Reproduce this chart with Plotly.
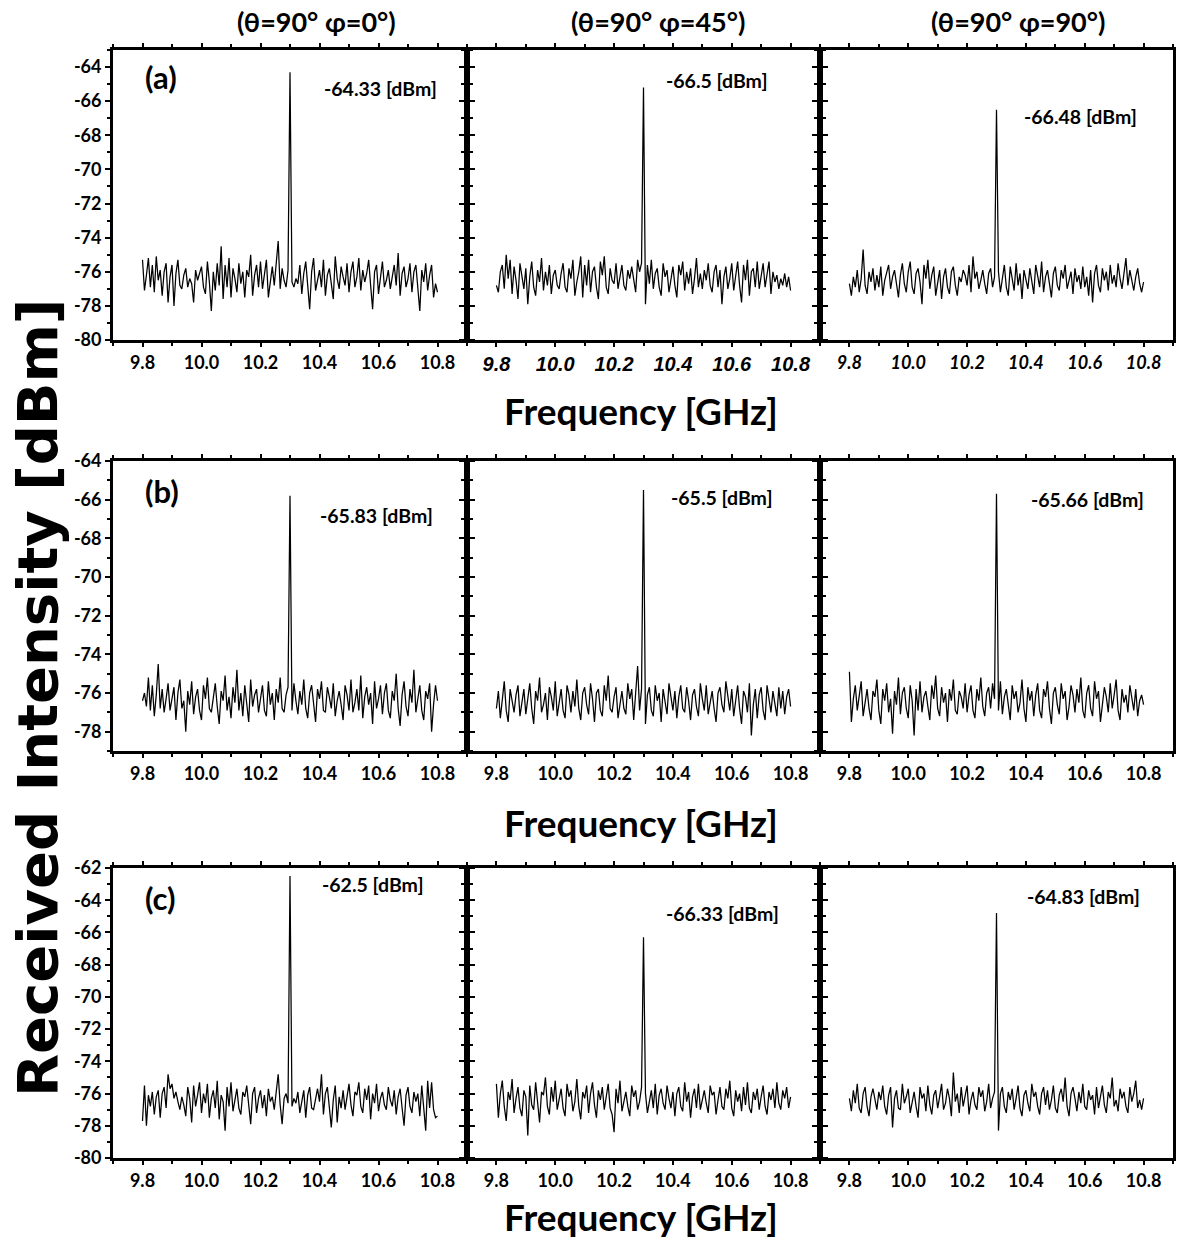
import numpy as np
import plotly.graph_objects as go

W, H = 1180, 1239
FONT = "Lato"

# ---------------- data ----------------
FREQ_START, FREQ_STOP, N_POINTS = 9.8, 10.8, 151
freq = np.linspace(FREQ_START, FREQ_STOP, N_POINTS)

col_titles = ["(θ=90° φ=0°)", "(θ=90° φ=45°)", "(θ=90° φ=90°)"]
row_labels = ["(a)", "(b)", "(c)"]
peak_labels = [
    ["-64.33 [dBm]", "-66.5 [dBm]", "-66.48 [dBm]"],
    ["-65.83 [dBm]", "-65.5 [dBm]", "-65.66 [dBm]"],
    ["-62.5 [dBm]", "-66.33 [dBm]", "-64.83 [dBm]"],
]
x_tickvals = [9.8, 10.0, 10.2, 10.4, 10.6, 10.8]
x_ticktext = ["9.8", "10.0", "10.2", "10.4", "10.6", "10.8"]
x_minor = [9.7, 9.9, 10.1, 10.3, 10.5, 10.7, 10.9]
y_ranges = [[-80, -63], [-79, -64], [-80, -62]]
y_tickvals = [
    [-80, -78, -76, -74, -72, -70, -68, -66, -64],
    [-78, -76, -74, -72, -70, -68, -66, -64],
    [-80, -78, -76, -74, -72, -70, -68, -66, -64, -62],
]

a1 = [-75.3,-77.1,-76.2,-75.2,-76.9,-75.6,-77.2,-75.1,-76.5,-75.9,-77.4,-76.0,-75.5,-77.8,-76.3,
      -75.6,-78.0,-76.1,-75.3,-76.8,-77.0,-76.2,-75.8,-76.9,-76.4,-76.7,-77.8,-75.9,-76.5,-76.1,
      -75.7,-76.9,-77.3,-75.4,-76.6,-78.3,-76.0,-77.1,-75.5,-76.8,-74.5,-77.6,-75.6,-76.9,-75.2,
      -77.5,-75.8,-76.4,-77.2,-75.5,-76.7,-76.0,-77.5,-75.9,-76.3,-75.0,-77.4,-76.2,-75.6,-76.9,
      -75.4,-77.0,-76.1,-75.3,-77.5,-76.6,-75.7,-76.8,-75.5,-74.2,-77.0,-75.8,-76.5,-76.9,-75.9,
      -64.3,
      -76.6,-76.9,-76.4,-76.7,-75.6,-77.3,-76.1,-75.4,-76.8,-78.2,-76.0,-75.2,-77.1,-76.5,-75.9,
      -76.9,-75.3,-77.4,-76.2,-75.8,-76.7,-77.6,-75.1,-76.4,-77.0,-75.7,-76.3,-76.8,-75.5,-77.2,
      -76.0,-75.4,-76.9,-76.3,-75.2,-77.1,-75.9,-76.6,-76.1,-75.3,-76.8,-78.2,-76.0,-75.6,-77.3,
      -76.2,-75.4,-76.9,-76.5,-75.9,-77.0,-76.3,-75.6,-76.8,-74.9,-77.4,-76.1,-75.7,-76.9,-76.4,
      -75.5,-77.2,-76.0,-75.6,-76.8,-78.3,-75.9,-76.6,-75.5,-77.1,-76.2,-75.6,-77.5,-76.7,-77.2]

a2 = [-76.8,-77.2,-76.0,-75.6,-77.0,-75.0,-76.4,-75.3,-77.3,-75.7,-76.5,-77.6,-75.5,-76.2,-77.0,
      -75.8,-77.9,-76.3,-75.4,-76.9,-77.4,-75.9,-76.6,-75.2,-77.1,-76.0,-76.8,-75.6,-77.3,-76.2,
      -75.9,-76.8,-77.0,-76.1,-75.5,-76.9,-77.2,-75.8,-76.4,-75.3,-77.4,-76.6,-76.0,-75.1,-77.5,
      -75.6,-76.8,-75.3,-77.2,-76.0,-75.7,-76.9,-77.6,-75.4,-76.2,-75.1,-76.9,-77.3,-75.8,-76.5,
      -76.7,-75.5,-77.0,-76.3,-75.6,-76.8,-77.1,-75.9,-76.4,-75.7,-76.6,-77.2,-75.3,-76.0,-75.5,
      -65.2,
      -77.9,-75.6,-76.7,-75.3,-77.0,-76.1,-75.8,-76.9,-77.4,-75.5,-76.3,-75.9,-77.2,-76.5,-75.7,
      -76.8,-77.5,-75.6,-76.2,-75.4,-77.1,-76.0,-76.7,-75.8,-77.3,-76.4,-75.2,-76.9,-76.1,-77.0,
      -75.9,-76.5,-75.5,-76.8,-77.2,-76.0,-75.6,-76.9,-75.9,-77.9,-76.3,-75.7,-77.0,-76.4,-75.5,
      -77.1,-76.2,-75.4,-76.8,-77.8,-75.6,-76.5,-75.3,-77.4,-76.0,-75.8,-76.9,-75.4,-77.0,-76.3,
      -75.5,-76.9,-76.1,-75.4,-77.3,-76.0,-76.6,-76.2,-77.0,-76.4,-76.8,-76.1,-76.9,-76.3,-77.1]

a3 = [-76.7,-77.4,-76.3,-76.9,-75.9,-77.2,-76.4,-74.7,-76.8,-77.3,-76.0,-76.6,-75.8,-77.1,-76.2,
      -76.9,-75.7,-77.4,-76.5,-76.1,-75.6,-77.0,-76.3,-75.9,-76.8,-77.5,-76.2,-75.5,-76.7,-77.2,
      -76.0,-75.4,-76.9,-77.3,-76.1,-75.8,-76.6,-77.9,-75.6,-76.4,-75.3,-77.0,-76.2,-75.7,-77.4,
      -76.5,-75.9,-77.6,-76.3,-75.8,-76.9,-77.3,-76.0,-75.7,-76.8,-77.4,-76.3,-76.6,-75.9,-76.2,
      -76.8,-75.6,-77.2,-75.1,-76.4,-76.0,-77.0,-76.5,-75.9,-76.7,-77.3,-76.1,-75.8,-76.9,-76.3,
      -66.5,
      -76.0,-77.2,-76.5,-75.6,-76.9,-77.4,-75.7,-76.3,-77.1,-75.5,-76.8,-76.1,-77.6,-75.9,-76.4,
      -77.0,-75.8,-76.6,-77.3,-75.6,-76.2,-76.9,-75.4,-77.2,-76.3,-75.9,-76.7,-77.5,-76.1,-75.7,
      -76.8,-77.1,-75.9,-76.4,-75.6,-77.0,-76.5,-76.0,-77.3,-75.8,-76.6,-76.2,-77.0,-75.7,-76.9,
      -76.3,-77.4,-75.9,-77.8,-76.1,-75.6,-76.8,-77.2,-75.8,-76.5,-76.0,-77.1,-75.6,-76.7,-76.2,
      -76.9,-75.5,-76.4,-77.0,-76.1,-75.2,-76.8,-75.9,-76.5,-77.1,-76.3,-75.8,-76.7,-77.2,-76.6]

b1 = [-76.4,-76.0,-76.7,-75.2,-76.9,-75.6,-77.2,-76.1,-74.5,-76.8,-75.8,-77.0,-76.3,-75.5,-76.9,
      -76.2,-75.7,-77.4,-76.0,-75.3,-76.8,-76.4,-78.0,-75.9,-76.6,-75.4,-77.1,-76.2,-75.8,-76.9,
      -77.4,-75.6,-76.3,-75.2,-76.8,-77.0,-76.1,-75.5,-76.7,-77.6,-75.9,-76.4,-75.1,-76.9,-76.2,
      -77.3,-75.7,-76.5,-74.8,-76.9,-76.0,-77.2,-75.6,-76.4,-77.5,-75.3,-76.7,-76.1,-75.8,-77.0,
      -76.3,-75.6,-76.9,-77.2,-75.4,-76.6,-76.0,-77.4,-75.8,-76.5,-75.2,-76.8,-77.0,-76.1,-75.7,
      -65.8,
      -76.9,-75.5,-76.4,-77.1,-75.9,-76.6,-75.3,-76.8,-77.3,-76.0,-75.6,-76.7,-77.5,-75.8,-76.3,
      -75.4,-76.9,-77.0,-75.7,-76.2,-76.8,-75.5,-77.2,-76.4,-75.9,-76.6,-77.4,-75.6,-76.1,-76.9,
      -75.3,-77.0,-76.5,-75.8,-76.9,-75.1,-77.3,-76.2,-75.7,-76.6,-76.0,-77.6,-75.4,-76.8,-76.3,
      -75.6,-77.1,-76.0,-75.5,-76.9,-77.3,-75.9,-76.4,-75.0,-76.8,-77.7,-76.1,-75.4,-76.7,-77.2,
      -75.8,-76.5,-74.8,-77.0,-76.2,-75.6,-76.9,-77.4,-75.9,-76.3,-75.5,-78.0,-76.6,-75.6,-76.4]

b2 = [-76.8,-75.9,-77.3,-76.2,-75.4,-76.9,-77.5,-75.8,-76.4,-77.0,-76.1,-75.6,-77.2,-76.5,-75.8,
      -77.1,-76.3,-75.5,-76.8,-77.6,-75.9,-76.4,-75.2,-77.0,-76.6,-76.0,-77.4,-75.7,-76.2,-76.9,
      -75.4,-77.2,-76.5,-75.8,-76.9,-77.3,-75.6,-76.1,-77.0,-75.9,-76.7,-75.3,-76.8,-77.4,-76.0,
      -75.7,-76.6,-77.1,-75.5,-76.3,-77.5,-76.0,-75.8,-76.9,-77.2,-75.6,-76.4,-75.1,-76.8,-77.0,
      -76.2,-75.7,-77.3,-76.5,-75.9,-76.8,-77.1,-75.5,-76.3,-75.8,-77.4,-76.0,-74.6,-76.9,-75.8,
      -65.5,
      -77.6,-76.1,-75.7,-76.9,-77.2,-75.6,-76.4,-76.0,-77.5,-75.8,-76.6,-77.1,-75.5,-76.3,-76.9,
      -75.9,-77.3,-76.2,-75.6,-76.8,-77.0,-75.7,-76.4,-77.4,-76.1,-75.8,-76.7,-77.2,-75.5,-76.3,
      -76.9,-75.6,-77.1,-76.5,-75.9,-76.8,-77.5,-76.0,-75.7,-76.6,-77.0,-75.4,-76.3,-76.9,-75.8,
      -77.2,-76.4,-75.6,-76.8,-77.6,-75.9,-76.2,-77.0,-75.5,-78.2,-76.6,-75.8,-77.3,-76.1,-75.7,
      -76.9,-77.4,-75.6,-76.3,-77.0,-75.9,-76.5,-77.2,-75.7,-76.8,-75.9,-77.1,-76.2,-75.8,-76.7]

b3 = [-74.9,-77.5,-76.3,-75.6,-76.9,-76.1,-75.4,-77.2,-76.5,-75.8,-76.8,-77.4,-75.9,-76.2,-75.3,
      -76.9,-77.6,-75.8,-76.4,-75.5,-77.0,-76.3,-78.1,-75.9,-76.6,-75.2,-77.1,-76.0,-75.7,-76.8,
      -77.3,-75.6,-76.4,-78.2,-75.8,-76.9,-75.4,-77.0,-76.2,-75.9,-76.7,-77.4,-75.6,-76.3,-75.1,
      -76.8,-77.2,-75.7,-76.5,-76.0,-77.5,-75.8,-76.4,-75.3,-76.9,-77.1,-75.9,-76.2,-76.8,-75.5,
      -77.0,-76.1,-75.6,-76.9,-77.3,-75.8,-76.4,-75.2,-76.7,-77.2,-76.0,-75.7,-76.8,-75.5,-76.3,
      -65.7,
      -76.9,-75.4,-77.1,-76.2,-75.8,-76.6,-77.4,-75.6,-76.3,-75.9,-77.0,-76.5,-75.3,-76.8,-77.5,
      -75.7,-76.4,-75.9,-77.2,-76.1,-75.5,-76.9,-77.3,-75.8,-76.2,-75.4,-76.8,-77.6,-76.0,-75.7,
      -76.6,-77.1,-75.5,-76.3,-75.9,-77.4,-76.7,-75.6,-76.1,-77.0,-75.8,-76.5,-75.2,-76.9,-77.3,
      -76.0,-75.6,-76.8,-77.2,-75.4,-76.3,-75.9,-77.5,-76.6,-75.7,-76.2,-77.0,-75.5,-76.8,-76.1,
      -75.3,-76.9,-77.4,-75.8,-76.5,-76.1,-77.0,-75.6,-76.3,-76.9,-75.8,-77.2,-76.4,-76.1,-76.6]

c1 = [-77.7,-75.5,-78.0,-76.1,-76.8,-75.9,-77.3,-76.2,-75.8,-77.5,-76.0,-75.6,-76.9,-74.8,-75.7,
      -75.4,-76.3,-75.9,-76.5,-77.0,-76.2,-76.7,-77.4,-75.6,-76.3,-77.8,-75.5,-76.8,-76.1,-75.3,
      -77.2,-76.0,-76.6,-75.4,-77.5,-76.3,-75.8,-76.9,-75.2,-77.6,-76.1,-76.5,-78.3,-75.6,-76.8,
      -75.3,-77.1,-76.4,-75.7,-76.9,-77.3,-75.9,-76.2,-75.5,-76.8,-77.9,-76.0,-75.6,-77.2,-76.3,
      -75.8,-76.9,-76.1,-77.4,-75.7,-76.5,-76.2,-77.0,-75.9,-74.8,-76.7,-77.9,-76.3,-76.0,-76.6,
      -62.5,
      -76.8,-76.3,-76.6,-75.9,-77.2,-76.4,-75.8,-77.5,-76.1,-75.6,-76.9,-77.0,-76.2,-75.7,-76.5,
      -74.8,-77.3,-76.0,-75.6,-76.8,-78.1,-76.4,-75.5,-77.8,-76.2,-76.9,-75.8,-77.0,-76.3,-75.4,
      -76.7,-77.4,-75.9,-76.1,-75.3,-76.8,-77.2,-75.7,-76.4,-75.5,-77.6,-76.0,-76.6,-75.4,-77.1,
      -76.3,-75.9,-76.7,-77.0,-75.6,-76.4,-76.8,-75.8,-77.3,-76.2,-75.7,-76.9,-78.0,-76.1,-75.6,
      -76.8,-77.2,-75.9,-76.5,-76.0,-77.4,-75.5,-76.7,-78.3,-75.2,-76.9,-75.3,-77.0,-77.5,-77.4]

c2 = [-75.4,-77.5,-76.0,-75.2,-76.8,-77.7,-75.9,-76.4,-75.1,-77.2,-76.3,-75.6,-76.9,-77.4,-75.8,
      -76.2,-78.6,-75.5,-76.7,-77.0,-75.3,-76.4,-77.8,-75.9,-76.1,-75.0,-76.8,-77.3,-75.6,-76.5,
      -75.2,-77.0,-76.3,-75.7,-76.9,-77.4,-75.4,-76.2,-75.8,-77.1,-76.5,-75.1,-76.8,-77.6,-75.9,
      -76.3,-75.5,-77.2,-76.0,-75.3,-76.7,-77.5,-75.8,-76.4,-75.6,-77.0,-76.2,-75.4,-76.9,-77.3,
      -78.4,-75.7,-76.6,-75.2,-77.1,-76.4,-75.9,-76.8,-77.4,-75.5,-76.2,-75.8,-77.0,-76.5,-75.6,
      -66.3,
      -76.0,-77.2,-76.5,-75.8,-76.9,-75.4,-77.3,-76.1,-75.7,-76.6,-77.0,-75.5,-76.3,-76.9,-75.9,
      -77.4,-76.0,-75.6,-76.8,-77.1,-75.3,-76.5,-75.9,-77.5,-76.2,-75.7,-76.9,-75.4,-77.0,-76.3,
      -75.8,-76.6,-77.2,-75.5,-76.1,-75.9,-77.3,-76.4,-75.6,-76.8,-77.0,-75.7,-76.3,-75.2,-76.9,
      -77.4,-75.8,-76.5,-76.0,-77.1,-75.6,-76.7,-75.3,-76.9,-77.2,-75.9,-76.4,-75.7,-77.0,-76.2,
      -75.5,-76.8,-77.3,-75.9,-76.4,-75.7,-76.9,-75.3,-76.6,-77.0,-75.8,-76.3,-75.6,-76.9,-76.2]

c3 = [-76.3,-77.1,-75.8,-76.6,-75.4,-76.9,-77.2,-76.0,-75.6,-76.8,-77.4,-76.2,-75.7,-76.5,-77.0,
      -75.9,-76.4,-75.5,-76.8,-77.3,-76.1,-75.6,-78.1,-76.3,-75.8,-76.9,-77.0,-75.4,-76.6,-76.2,
      -75.7,-77.2,-76.5,-75.9,-76.8,-77.5,-75.6,-76.3,-76.0,-77.1,-75.5,-76.7,-77.3,-76.1,-75.8,
      -76.9,-76.2,-75.4,-77.0,-76.6,-75.7,-76.3,-77.4,-74.7,-76.5,-76.0,-77.2,-75.6,-76.8,-76.1,
      -75.5,-77.3,-76.4,-75.9,-76.7,-77.0,-75.6,-76.2,-75.8,-77.1,-76.5,-75.4,-76.9,-76.3,-75.9,
      -64.8,
      -78.3,-76.0,-75.6,-76.8,-77.2,-75.9,-76.4,-75.7,-77.0,-76.3,-75.5,-76.9,-77.4,-76.1,-75.8,
      -76.6,-77.1,-75.4,-76.2,-75.9,-76.8,-77.3,-76.0,-75.6,-76.7,-75.8,-77.0,-76.4,-75.5,-76.9,
      -77.2,-76.1,-75.7,-76.5,-75.0,-76.8,-77.4,-76.0,-75.6,-76.3,-77.1,-75.9,-76.6,-75.4,-76.8,
      -77.0,-75.8,-76.4,-76.1,-77.3,-75.6,-76.9,-76.2,-75.5,-76.7,-77.2,-75.9,-76.3,-75.0,-76.8,
      -76.4,-77.1,-75.7,-76.3,-75.9,-76.8,-77.2,-75.6,-76.5,-76.0,-75.2,-76.9,-76.4,-77.0,-76.3]

spectra = [[a1, a2, a3], [b1, b2, b3], [c1, c2, c3]]

# ---------------- layout geometry (pixels) ----------------
col_px = [(113, 467), (467, 820), (820, 1173)]
row_px = [(50, 340), (461, 751), (868, 1158)]
peak_label_px = [[(322, 89), (664, 80), (1022, 117)],
                 [(318, 515), (669, 498), (1029, 499)],
                 [(320, 884), (664, 913), (1025, 896)]]
row_label_px = [(143, 77), (143, 491), (143, 898)]
col_title_px = [316, 658, 1018]
freq_title_py = [410, 822, 1216]


def px(x):
    return x / W


def py(y):
    return 1 - y / H


fig = go.Figure()
layout = {}
annotations = []

for r in range(3):
    for c in range(3):
        k = r * 3 + c + 1
        xn = "x" if k == 1 else f"x{k}"
        yn = "y" if k == 1 else f"y{k}"
        fig.add_trace(go.Scatter(x=freq, y=spectra[r][c], mode="lines",
                                 line=dict(color="black", width=1.25),
                                 xaxis=xn, yaxis=yn, showlegend=False,
                                 hoverinfo="skip"))
        xtf = dict(family=FONT, size=18, color="black", weight="bold")
        if r == 0 and c == 1:
            xtf = dict(family="Liberation Sans", size=20, color="black",
                       weight="bold", style="italic")
        elif r == 0 and c == 2:
            xtf = dict(family=FONT, size=18, color="black",
                       weight="bold", style="italic")
        layout["xaxis" if k == 1 else f"xaxis{k}"] = dict(
            domain=[px(col_px[c][0]), px(col_px[c][1])], anchor=yn,
            range=[9.7, 10.9], showgrid=False, zeroline=False,
            showline=True, linecolor="black", linewidth=2.8, mirror="ticks",
            ticks="outside", ticklen=4, tickwidth=2, tickcolor="black",
            tickvals=x_tickvals, ticktext=x_ticktext, tickfont=xtf,
            minor=dict(tickvals=x_minor, ticks="outside", ticklen=3,
                       tickwidth=1.5, tickcolor="black"),
            automargin=False, fixedrange=True)
        y0, y1 = row_px[r]
        yminor = [v + 1 for v in y_tickvals[r]] + [y_tickvals[r][0] - 1]
        layout["yaxis" if k == 1 else f"yaxis{k}"] = dict(
            domain=[py(y1), py(y0)], anchor=xn, range=y_ranges[r],
            showgrid=False, zeroline=False, showline=True, linecolor="black",
            linewidth=2.8, mirror=("ticks" if c < 2 else True),
            ticks="outside", ticklen=5, tickwidth=2, tickcolor="black",
            tickvals=y_tickvals[r],
            ticktext=[str(v) for v in y_tickvals[r]],
            showticklabels=(c == 0),
            tickfont=dict(family=FONT, size=18, color="black", weight="bold"),
            minor=dict(tickvals=yminor, ticks="outside", ticklen=3,
                       tickwidth=1.5, tickcolor="black"),
            automargin=False, fixedrange=True)
        lx, ly = peak_label_px[r][c]
        annotations.append(dict(text=peak_labels[r][c], x=px(lx), y=py(ly),
                                xref="paper", yref="paper", xanchor="left",
                                yanchor="middle", showarrow=False,
                                font=dict(family=FONT, size=19.5, color="black",
                                          weight="bold")))
    lx, ly = row_label_px[r]
    annotations.append(dict(text=row_labels[r], x=px(lx), y=py(ly),
                            xref="paper", yref="paper", xanchor="left",
                            yanchor="middle", showarrow=False,
                            font=dict(family=FONT, size=31, color="black",
                                      weight="bold")))
    annotations.append(dict(text="Frequency [GHz]", x=px(641), y=py(freq_title_py[r]),
                            xref="paper", yref="paper", xanchor="center",
                            yanchor="middle", showarrow=False,
                            font=dict(family=FONT, size=37, color="black",
                                      weight="bold")))

for c in range(3):
    annotations.append(dict(text=col_titles[c], x=px(col_title_px[c]), y=py(22),
                            xref="paper", yref="paper", xanchor="center",
                            yanchor="middle", showarrow=False,
                            font=dict(family=FONT, size=27, color="black",
                                      weight="bold")))

annotations.append(dict(text="Received Intensity [dBm]", x=px(37), y=py(698),
                        xref="paper", yref="paper", xanchor="center",
                        yanchor="middle", textangle=-90, showarrow=False,
                        font=dict(family="DejaVu Sans", size=56, color="black",
                                  weight="bold")))

fig.update_layout(**layout)
fig.update_layout(width=W, height=H,
                  margin=dict(l=0, r=0, t=0, b=0, pad=0, autoexpand=False),
                  paper_bgcolor="white", plot_bgcolor="white",
                  annotations=annotations, showlegend=False)

fig.write_html("out.html", config={"displayModeBar": False},
               post_script="document.body.style.margin='0';"
                           "document.body.style.overflow='hidden';")
